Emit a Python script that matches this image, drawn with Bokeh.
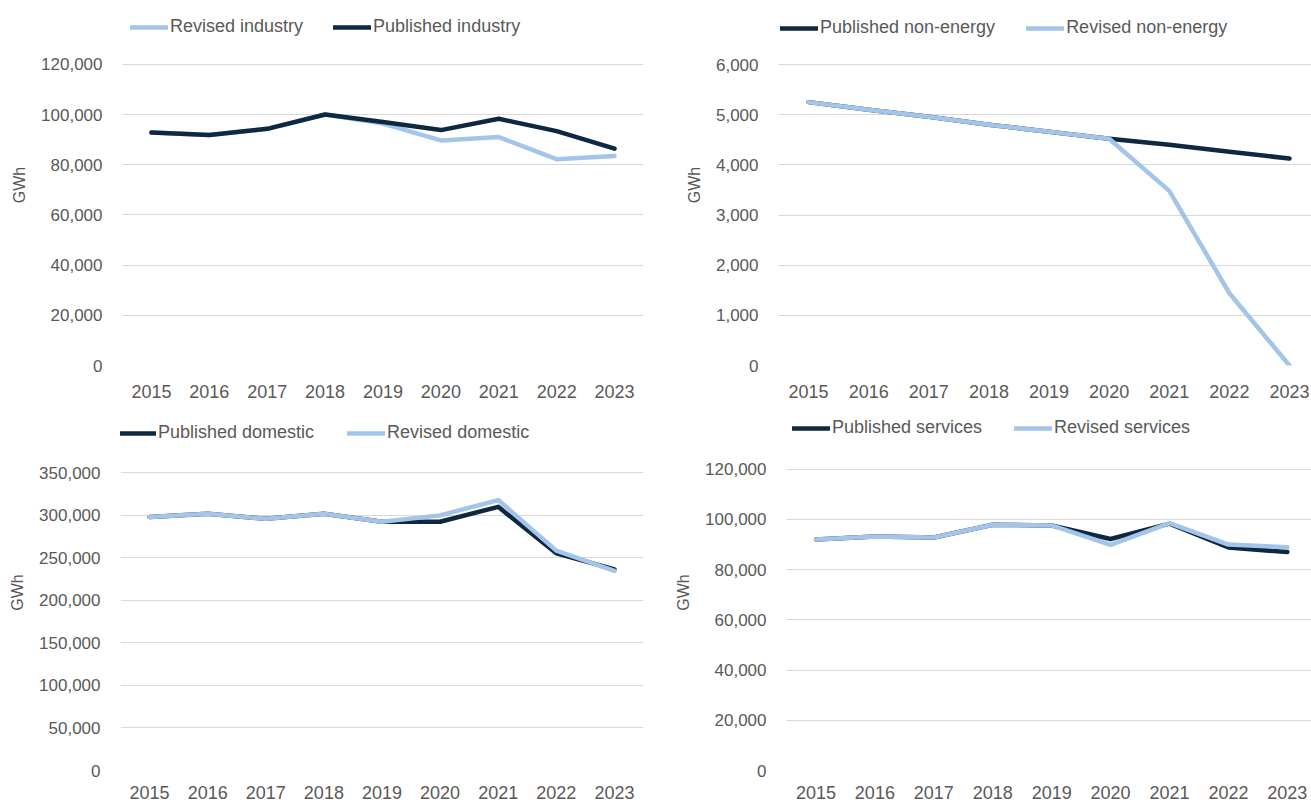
from bokeh.plotting import figure
from bokeh.models import (Range1d, FixedTicker, NumeralTickFormatter, Legend, LegendItem)
from bokeh.layouts import column, row
from bokeh.embed import file_html
from bokeh.resources import INLINE

# ---------------- data ----------------
years = [2015, 2016, 2017, 2018, 2019, 2020, 2021, 2022, 2023]

industry_published = [92800, 91800, 94300, 100000, 97000, 93800, 98300, 93400, 86400]
industry_revised = [92800, 91800, 94300, 100000, 96400, 89700, 91000, 82200, 83500]

nonenergy_published = [5250, 5100, 4960, 4800, 4660, 4520, 4400, 4260, 4125]
nonenergy_revised = [5250, 5100, 4960, 4800, 4660, 4520, 3480, 1440, 0]

domestic_published = [298000, 302000, 296000, 302000, 292500, 292500, 310000, 255500, 236500]
domestic_revised = [298000, 302000, 296000, 302000, 292500, 300000, 318000, 258500, 234800]

services_published = [92000, 93200, 92800, 97900, 97600, 92200, 98300, 88800, 87000]
services_revised = [92000, 93200, 92800, 97900, 97600, 89900, 98500, 90000, 88900]

industry_ticks = [0, 20000, 40000, 60000, 80000, 100000, 120000]
nonenergy_ticks = [0, 1000, 2000, 3000, 4000, 5000, 6000]
domestic_ticks = [0, 50000, 100000, 150000, 200000, 250000, 300000, 350000]
services_ticks = [0, 20000, 40000, 60000, 80000, 100000, 120000]

# ---------------- style ----------------
DARK = "#0E2841"
LIGHT = "#A3C5EA"
TEXT = "#595959"
GRID = "#D9D9D9"
FONT = "Liberation Sans"


def make_panel(width, height, borders, tick_top_px, xr, ticks, series, order,
               xstandoff, leg_loc, leg_spacing):
    left, right, top, bottom = borders
    # the frame reaches up to `top` so the legend fits inside it; the top
    # tick keeps its place at `tick_top_px` pixels from the figure's top
    frame_bottom = height - bottom
    ymax = ticks[-1] * (frame_bottom - top) / (frame_bottom - tick_top_px)
    p = figure(width=width, height=height, output_backend="svg", toolbar_location=None,
               x_range=Range1d(*xr), y_range=Range1d(0, ymax),
               min_border_left=left, min_border_right=right,
               min_border_top=top, min_border_bottom=bottom)
    p.outline_line_color = None
    p.background_fill_color = "white"
    p.border_fill_color = "white"
    p.xgrid.grid_line_color = None
    p.ygrid.grid_line_color = GRID
    p.ygrid.grid_line_width = 1
    p.ygrid.ticker = FixedTicker(ticks=ticks)

    p.yaxis.ticker = FixedTicker(ticks=ticks)
    p.yaxis.formatter = NumeralTickFormatter(format="0,0")
    p.yaxis.axis_line_color = None
    p.yaxis.major_tick_line_color = None
    p.yaxis.minor_tick_line_color = None
    p.yaxis.major_tick_out = 0
    p.yaxis.major_label_standoff = 20
    p.yaxis.major_label_text_font = FONT
    p.yaxis.major_label_text_font_size = "17px"
    p.yaxis.major_label_text_color = TEXT
    p.yaxis.axis_label = "GWh"
    p.yaxis.axis_label_text_font = FONT
    p.yaxis.axis_label_text_font_size = "16px"
    p.yaxis.axis_label_text_font_style = "normal"
    p.yaxis.axis_label_text_color = TEXT
    p.yaxis.axis_label_standoff = 10

    p.xaxis.ticker = FixedTicker(ticks=years)
    p.xaxis.axis_line_color = None
    p.xaxis.major_tick_line_color = None
    p.xaxis.minor_tick_line_color = None
    p.xaxis.major_tick_out = 0
    p.xaxis.major_label_standoff = xstandoff
    p.xaxis.major_label_text_font = FONT
    p.xaxis.major_label_text_font_size = "18px"
    p.xaxis.major_label_text_color = TEXT

    lookup = {name: (vals, color) for name, vals, color in series}
    drawn = {}
    for name in order:
        vals, color = lookup[name]
        drawn[name] = p.line(years, vals, line_color=color, line_width=4.5,
                             line_join="round", line_cap="round")
    items = [LegendItem(label=name, renderers=[drawn[name]]) for name, _, _ in series]
    leg = Legend(items=items, location=leg_loc, orientation="horizontal",
                 glyph_width=38, glyph_height=20, label_standoff=2, spacing=leg_spacing,
                 padding=0, margin=0, border_line_color=None,
                 background_fill_alpha=0,
                 label_text_font=FONT, label_text_font_size="18px",
                 label_text_color=TEXT)
    p.add_layout(leg)
    return p


p1 = make_panel(655, 410, (122, 12, 4, 44), 64, (2014.5, 2023.5), industry_ticks,
                [("Revised industry", industry_revised, LIGHT),
                 ("Published industry", industry_published, DARK)],
                ["Revised industry", "Published industry"], 19, (8, 328), 30)

p2 = make_panel(656, 410, (123, 0, 4, 45), 64, (2014.5, 2023.366), nonenergy_ticks,
                [("Published non-energy", nonenergy_published, DARK),
                 ("Revised non-energy", nonenergy_revised, LIGHT)],
                ["Published non-energy", "Revised non-energy"], 19, (2, 327), 31)

p3 = make_panel(655, 397, (120, 12, 4, 33), 63, (2014.5, 2023.5), domestic_ticks,
                [("Published domestic", domestic_published, DARK),
                 ("Revised domestic", domestic_revised, LIGHT)],
                ["Published domestic", "Revised domestic"], 15, (-2, 327), 33)

p4 = make_panel(656, 397, (131, 0, 2, 37), 57, (2014.5, 2023.41), services_ticks,
                [("Published services", services_published, DARK),
                 ("Revised services", services_revised, LIGHT)],
                ["Published services", "Revised services"], 15, (6, 332), 32)

layout = column(row(p1, p2), row(p3, p4))
open("out.html", "w").write(file_html(layout, INLINE))
